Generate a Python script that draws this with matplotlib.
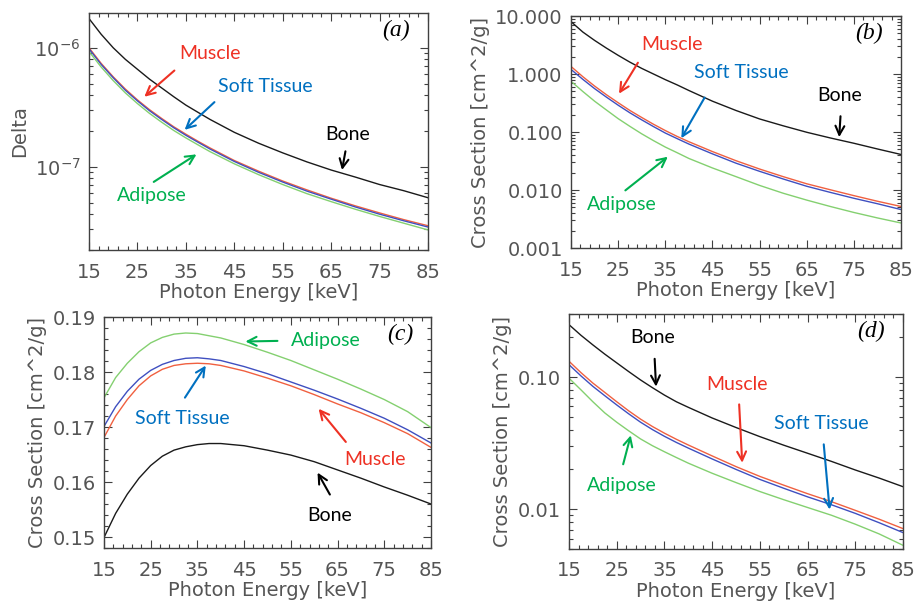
import matplotlib
matplotlib.use("Agg")
import matplotlib.pyplot as plt
from matplotlib.ticker import FixedLocator, FixedFormatter, LogLocator, NullFormatter

# energia de fotones [keV]
energia = [15, 17.5, 20, 22.5, 25, 27.5, 30, 32.5, 35, 37.5, 40, 45, 50, 55, 60, 65, 70, 75, 80, 85]

# (a) delta
delta_bone = [1.76e-6, 1.30e-6, 1.0e-6, 8.0e-7, 6.6e-7, 5.45e-7, 4.6e-7, 3.88e-7, 3.3e-7, 2.87e-7,
              2.5e-7, 1.95e-7, 1.58e-7, 1.31e-7, 1.10e-7, 9.4e-8, 8.2e-8, 7.1e-8, 6.3e-8, 5.5e-8]
delta_muscle = [1.0e-6, 7.4e-7, 5.7e-7, 4.5e-7, 3.65e-7, 3.02e-7, 2.55e-7, 2.17e-7, 1.88e-7, 1.64e-7,
                1.44e-7, 1.13e-7, 9.2e-8, 7.6e-8, 6.4e-8, 5.45e-8, 4.7e-8, 4.1e-8, 3.6e-8, 3.2e-8]
delta_soft = [0.98e-6, 7.25e-7, 5.6e-7, 4.4e-7, 3.58e-7, 2.96e-7, 2.5e-7, 2.13e-7, 1.84e-7, 1.61e-7,
              1.41e-7, 1.11e-7, 9.0e-8, 7.45e-8, 6.25e-8, 5.35e-8, 4.6e-8, 4.0e-8, 3.52e-8, 3.12e-8]
delta_adipose = [0.93e-6, 6.9e-7, 5.3e-7, 4.18e-7, 3.4e-7, 2.81e-7, 2.37e-7, 2.02e-7, 1.75e-7, 1.53e-7,
                 1.34e-7, 1.06e-7, 8.6e-8, 7.1e-8, 5.95e-8, 5.1e-8, 4.4e-8, 3.83e-8, 3.36e-8, 2.95e-8]

# (b) seccion eficaz fotoelectrica
pe_bone = [8.0, 5.3, 3.8, 2.8, 2.1, 1.6, 1.25, 1.0, 0.80, 0.65, 0.52, 0.34, 0.235, 0.168,
           0.128, 0.099, 0.079, 0.064, 0.051, 0.041]
pe_muscle = [1.35, 0.90, 0.62, 0.44, 0.32, 0.235, 0.178, 0.136, 0.106, 0.084, 0.068, 0.046,
             0.032, 0.023, 0.017, 0.0128, 0.0101, 0.0080, 0.0064, 0.0052]
pe_soft = [1.2, 0.81, 0.56, 0.40, 0.29, 0.214, 0.162, 0.124, 0.096, 0.077, 0.062, 0.042,
           0.029, 0.021, 0.0155, 0.0116, 0.0091, 0.0072, 0.0058, 0.0046]
pe_adipose = [0.75, 0.50, 0.34, 0.24, 0.17, 0.125, 0.093, 0.071, 0.055, 0.044, 0.035, 0.024,
              0.017, 0.012, 0.0088, 0.0067, 0.0052, 0.0041, 0.0033, 0.0027]

# (c) seccion eficaz Compton
co_adipose = [0.1753, 0.1790, 0.1816, 0.1837, 0.1853, 0.1863, 0.1869, 0.1871, 0.1870, 0.1866,
              0.1862, 0.1850, 0.1836, 0.1821, 0.1804, 0.1787, 0.1769, 0.1750, 0.1728, 0.1699]
co_soft = [0.1701, 0.1737, 0.1765, 0.1787, 0.1803, 0.1814, 0.1821, 0.1825, 0.1826, 0.1824,
           0.1821, 0.1810, 0.1797, 0.1782, 0.1767, 0.1751, 0.1734, 0.1716, 0.1695, 0.1671]
co_muscle = [0.1681, 0.1720, 0.1750, 0.1775, 0.1793, 0.1805, 0.1812, 0.1815, 0.1816, 0.1815,
             0.1812, 0.1802, 0.1789, 0.1775, 0.1759, 0.1742, 0.1726, 0.1708, 0.1688, 0.1663]
co_bone = [0.1499, 0.1543, 0.1578, 0.1607, 0.1630, 0.1647, 0.1658, 0.1664, 0.1668, 0.1670,
           0.1670, 0.1666, 0.1658, 0.1649, 0.1637, 0.1622, 0.1607, 0.1591, 0.1576, 0.1560]

# (d) seccion eficaz Rayleigh
ra_bone = [0.249, 0.207, 0.175, 0.149, 0.128, 0.110, 0.095, 0.083, 0.073, 0.065, 0.059, 0.049,
           0.0415, 0.0354, 0.0305, 0.0265, 0.0230, 0.0198, 0.0172, 0.0148]
ra_muscle = [0.1316, 0.108, 0.090, 0.0765, 0.065, 0.0555, 0.048, 0.0422, 0.0376, 0.0338, 0.0306,
             0.0253, 0.0210, 0.0177, 0.0152, 0.0131, 0.0114, 0.0098, 0.0084, 0.00713]
ra_soft = [0.124, 0.102, 0.085, 0.0722, 0.0615, 0.0527, 0.0455, 0.040, 0.0356, 0.032, 0.0290,
           0.0240, 0.0200, 0.0168, 0.0144, 0.0124, 0.0108, 0.0093, 0.0079, 0.00665]
ra_adipose = [0.098, 0.080, 0.065, 0.0535, 0.0455, 0.0392, 0.0340, 0.0302, 0.0272, 0.0246, 0.0223,
              0.0187, 0.0159, 0.0136, 0.0118, 0.0103, 0.0090, 0.0077, 0.0065, 0.00533]

ticks_x = [15, 25, 35, 45, 55, 65, 75, 85]

C_LINEA = {"Bone": "#1a1a1a", "Muscle": "#f06040", "Soft": "#3f4fc0", "Adipose": "#84d070"}
C_TEXTO = {"Bone": "black", "Muscle": "#ee3124", "Soft": "#0070c0", "Adipose": "#00b050"}
GRIS = "#555555"
FUENTE_ANOT = ["Lato", "DejaVu Sans"]

plt.rcParams["font.family"] = ["DejaVu Sans"]
plt.rcParams["mathtext.fontset"] = "dejavusans"

fig = plt.figure(figsize=(9.16, 6.03), dpi=100)
ax_a = fig.add_axes([0.0972, 0.5854, 0.370, 0.393])
ax_b = fig.add_axes([0.6234, 0.5887, 0.3603, 0.3847])
ax_c = fig.add_axes([0.1135, 0.0912, 0.357, 0.383])
ax_d = fig.add_axes([0.6212, 0.0896, 0.3646, 0.3897])


def estilo(ax, ylabel, etiqueta):
    ax.set_xlim(15, 85)
    ax.xaxis.set_major_locator(FixedLocator(ticks_x))
    ax.xaxis.set_minor_locator(FixedLocator(list(range(15, 86, 2))))
    ax.tick_params(which="both", direction="in", top=True, right=True, colors="#404040",
                   labelcolor=GRIS, labelsize=14, width=0.8)
    ax.tick_params(which="major", length=6)
    ax.tick_params(axis="x", which="major", pad=9)
    ax.tick_params(axis="y", which="major", pad=6)
    ax.tick_params(which="minor", length=3)
    for s in ax.spines.values():
        s.set_color("#404040")
        s.set_linewidth(1.0)
    ax.set_xlabel("Photon Energy [keV]", fontsize=14, color=GRIS, labelpad=1)
    ax.set_ylabel(ylabel, fontsize=14, color=GRIS)
    ax.text(0.945, 0.925, etiqueta, transform=ax.transAxes, ha="right", va="center",
            fontsize=17, family="Liberation Serif", style="italic")


def curvas(ax, bone, muscle, soft, adipose):
    ax.plot(energia, bone, color=C_LINEA["Bone"], lw=1.0)
    ax.plot(energia, muscle, color=C_LINEA["Muscle"], lw=1.0)
    ax.plot(energia, soft, color=C_LINEA["Soft"], lw=1.0)
    ax.plot(energia, adipose, color=C_LINEA["Adipose"], lw=1.0)


def nota(ax, texto, clave, pos_texto, cola, punta):
    ax.text(pos_texto[0], pos_texto[1], texto, transform=ax.transAxes, ha="center",
            va="center", fontsize=14, color=C_TEXTO[clave], family=FUENTE_ANOT)
    ax.annotate("", xy=punta, xytext=cola, xycoords="axes fraction",
                textcoords="axes fraction",
                arrowprops=dict(arrowstyle="->", color=C_TEXTO[clave], lw=1.5,
                                mutation_scale=16))


# (a)
curvas(ax_a, delta_bone, delta_muscle, delta_soft, delta_adipose)
ax_a.set_yscale("log")
ax_a.set_ylim(2.0e-8, 1.96e-6)
estilo(ax_a, "Delta", "(a)")
nota(ax_a, "Muscle", "Muscle", (0.356, 0.831), (0.258, 0.765), (0.157, 0.639))
nota(ax_a, "Soft Tissue", "Soft", (0.519, 0.692), (0.376, 0.632), (0.276, 0.499))
nota(ax_a, "Bone", "Bone", (0.762, 0.487), (0.758, 0.428), (0.745, 0.326))
nota(ax_a, "Adipose", "Adipose", (0.186, 0.228), (0.184, 0.281), (0.324, 0.410))

# (b)
curvas(ax_b, pe_bone, pe_muscle, pe_soft, pe_adipose)
ax_b.set_yscale("log")
ax_b.set_ylim(0.001, 10)
estilo(ax_b, "Cross Section [cm^2/g]", "(b)")
ax_b.yaxis.set_major_locator(FixedLocator([0.001, 0.01, 0.1, 1, 10]))
ax_b.yaxis.set_major_formatter(FixedFormatter(["0.001", "0.010", "0.100", "1.000", "10.000"]))
ax_b.yaxis.set_minor_locator(LogLocator(subs=range(2, 10)))
ax_b.yaxis.set_minor_formatter(NullFormatter())
nota(ax_b, "Muscle", "Muscle", (0.306, 0.877), (0.207, 0.809), (0.141, 0.655))
nota(ax_b, "Soft Tissue", "Soft", (0.515, 0.755), (0.409, 0.659), (0.330, 0.463))
nota(ax_b, "Bone", "Bone", (0.815, 0.658), (0.817, 0.580), (0.812, 0.466))
nota(ax_b, "Adipose", "Adipose", (0.153, 0.189), (0.158, 0.241), (0.300, 0.401))

# (c)
curvas(ax_c, co_bone, co_muscle, co_soft, co_adipose)
ax_c.set_ylim(0.148, 0.19)
estilo(ax_c, "Cross Section [cm^2/g]", "(c)")
ax_c.yaxis.set_major_locator(FixedLocator([0.15, 0.16, 0.17, 0.18, 0.19]))
ax_c.yaxis.set_major_formatter(FixedFormatter(["0.15", "0.16", "0.17", "0.18", "0.19"]))
ax_c.yaxis.set_minor_locator(FixedLocator([0.148 + 0.002 * i for i in range(22)]))
nota(ax_c, "Adipose", "Adipose", (0.677, 0.897), (0.539, 0.897), (0.424, 0.894))
nota(ax_c, "Soft Tissue", "Soft", (0.240, 0.560), (0.243, 0.641), (0.316, 0.800))
nota(ax_c, "Muscle", "Muscle", (0.829, 0.384), (0.745, 0.450), (0.651, 0.612))
nota(ax_c, "Bone", "Bone", (0.690, 0.139), (0.695, 0.221), (0.649, 0.337))

# (d)
curvas(ax_d, ra_bone, ra_muscle, ra_soft, ra_adipose)
ax_d.set_yscale("log")
ax_d.set_ylim(0.005, 0.30)
estilo(ax_d, "Cross Section [cm^2/g]", "(d)")
ax_d.yaxis.set_major_locator(FixedLocator([0.01, 0.1]))
ax_d.yaxis.set_major_formatter(FixedFormatter(["0.01", "0.10"]))
ax_d.yaxis.set_minor_locator(LogLocator(subs=range(2, 10)))
ax_d.yaxis.set_minor_formatter(NullFormatter())
nota(ax_d, "Bone", "Bone", (0.250, 0.899), (0.256, 0.821), (0.261, 0.679))
nota(ax_d, "Muscle", "Muscle", (0.504, 0.702), (0.509, 0.627), (0.519, 0.355))
nota(ax_d, "Soft Tissue", "Soft", (0.756, 0.535), (0.762, 0.457), (0.781, 0.156))
nota(ax_d, "Adipose", "Adipose", (0.157, 0.270), (0.160, 0.349), (0.187, 0.495))

fig.savefig("out.png", dpi=100)
